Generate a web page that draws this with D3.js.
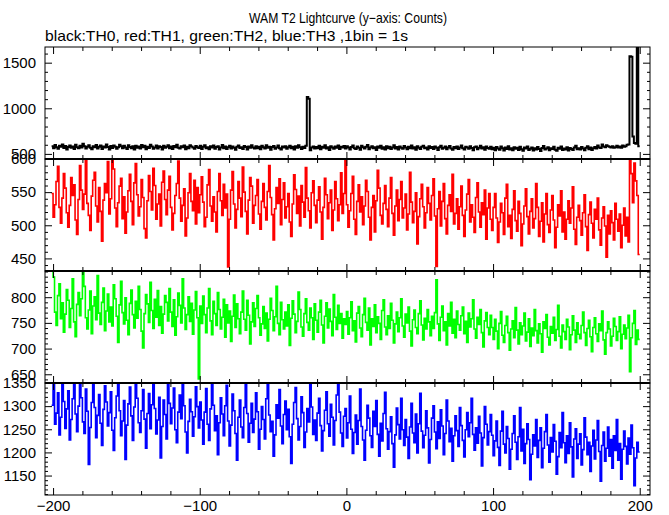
<!DOCTYPE html>
<html><head><meta charset="utf-8">
<script src="https://cdn.jsdelivr.net/npm/d3@7/dist/d3.min.js"></script>
<style>
html,body{margin:0;padding:0;background:#fff;}
svg{display:block;}
text{font-family:"Liberation Sans",Arial,Helvetica,sans-serif;fill:#000;}
</style></head>
<body>
<svg id="chart" width="669" height="515"></svg>
<script>
const title = "WAM T2 Lightcurve (y\u2212axis: Counts)";
const subtitle = "black:TH0, red:TH1, green:TH2, blue:TH3 ,1bin = 1s";
const timeStart = -201;
const xTickLabels = [-200, -100, 0, 100, 200];

const th0 = [
583,561,597,572,556,590,578,604,565,587,549,576,593,568,581,555,600,574,562,589,
571,612,585,558,579,596,566,551,584,573,598,560,577,591,554,582,569,603,575,547,
586,564,592,579,557,572,599,583,561,588,570,553,595,576,563,584,549,590,567,580,
559,597,574,588,552,578,565,601,582,556,571,593,560,585,575,548,589,568,579,596,
563,581,554,587,572,599,566,558,583,574,591,550,577,562,594,580,569,557,586,573,
565,588,553,579,596,561,574,550,583,569,592,557,576,585,548,571,598,563,580,555,
574,590,559,582,567,546,578,593,564,572,555,587,576,549,581,566,595,570,558,584,
562,577,551,589,573,560,596,568,579,545,575,586,557,571,592,563,548,580,569,584,
556,574,590,561,578,547,583,567,594,572,553,579,564,588,1124,1105,541,570,582,558,
575,563,589,551,577,568,596,560,573,544,585,571,556,582,566,591,554,578,569,587,
560,583,571,549,576,593,562,555,580,567,546,588,573,559,577,598,552,569,584,561,
574,543,581,566,590,557,572,548,585,563,578,553,569,594,560,575,547,582,568,556,
587,571,550,579,562,592,558,574,545,583,566,553,577,589,561,570,548,584,564,575,
555,581,568,542,573,590,557,566,580,551,571,586,559,546,576,563,582,554,569,592,
562,549,578,571,557,585,564,541,574,580,552,567,589,558,573,545,581,565,556,577,
552,568,541,575,559,546,580,563,537,571,555,584,548,562,539,574,557,566,543,578,
551,535,569,560,582,544,557,571,538,563,549,576,554,531,565,586,547,558,572,540,
561,553,578,545,534,567,556,581,542,560,548,573,537,564,555,544,570,590,552,561,
547,575,558,539,566,584,551,569,543,562,576,558,591,570,564,603,581,572,596,585,
578,570,583,566,574,589,571,580,568,592,577,585,600,604,1570,1565,690,620,612,1690,
585];

const th1 = [
548,512,531,566,589,527,503,541,578,556,519,497,530,572,545,561,508,486,539,590,
553,524,547,601,533,515,492,544,568,580,529,505,557,521,476,538,563,549,596,517,
540,611,585,526,498,534,559,571,510,543,488,520,552,577,536,501,564,593,546,514,
528,569,542,495,481,537,575,551,523,586,560,509,532,547,499,565,582,539,516,553,
574,527,493,518,545,563,597,541,506,530,555,484,511,549,578,536,522,568,502,557,
519,546,573,535,498,512,561,584,529,506,543,520,490,551,578,537,515,562,526,547,
437,509,553,581,532,496,524,566,541,513,588,550,521,487,538,572,559,503,530,545,
569,517,494,536,563,527,508,551,590,542,516,478,525,557,533,570,501,539,564,511,
528,548,505,483,532,576,554,518,544,499,560,535,512,587,541,522,496,549,567,530,
504,538,558,520,479,527,571,546,510,534,553,492,523,566,540,507,531,579,518,548,
603,531,497,522,548,574,509,486,536,561,520,543,501,529,568,551,512,478,527,545,
490,537,583,556,515,502,533,560,524,498,541,572,518,485,529,553,507,539,566,511,
526,547,493,517,580,535,504,521,549,472,513,540,562,528,496,519,557,533,508,545,
570,514,438,525,551,499,536,563,510,487,530,546,521,577,502,518,540,494,528,559,
515,483,523,547,569,505,531,512,489,542,564,520,497,534,516,553,479,526,548,509,
492,527,548,511,474,505,533,519,486,541,562,498,515,480,524,552,507,491,536,518,
469,502,529,555,513,487,521,540,496,510,563,527,483,506,534,475,517,548,501,489,
523,545,508,466,497,531,514,552,490,520,479,509,537,503,526,558,494,471,512,530,
507,485,519,546,498,462,516,535,503,481,524,509,541,493,470,511,528,499,452,515,
487,522,504,478,533,509,491,517,466,500,526,484,512,475,606,578,534,594,567,545,
456];

const th2 = [
852,839,771,745,803,826,758,789,732,767,815,794,741,778,836,752,723,786,809,764,
797,848,821,760,738,775,812,729,783,801,756,842,769,747,790,818,735,773,806,752,
781,744,824,797,763,712,785,831,770,748,799,755,727,788,814,766,740,792,759,821,
776,734,701,768,805,787,751,829,774,739,796,761,813,745,782,730,767,803,790,754,
817,771,743,795,726,762,808,784,750,836,779,737,766,801,753,788,728,775,811,760,
641,783,749,802,766,731,779,817,754,727,792,768,745,809,776,738,761,796,722,785,
750,773,714,763,804,741,787,758,729,771,812,757,736,794,765,709,752,789,743,778,
803,760,726,748,782,739,769,715,757,798,774,735,762,821,749,727,790,756,738,771,
744,785,706,759,793,767,731,753,810,776,742,724,768,797,751,736,779,760,718,787,
755,732,771,794,746,711,763,789,740,777,753,725,805,761,737,784,749,768,720,758,
747,772,728,760,791,735,754,713,769,782,740,723,766,798,751,736,779,707,758,743,
785,731,762,749,718,774,795,742,727,764,739,788,755,711,748,771,733,760,797,744,
722,767,750,781,734,705,756,775,741,729,768,793,746,717,759,738,776,752,725,763,
739,770,834,748,716,761,783,735,752,707,768,744,790,730,757,721,773,747,736,764,
781,729,753,712,769,742,758,795,738,720,761,747,776,731,703,754,770,741,727,765,
741,718,757,734,700,749,772,726,712,745,763,731,697,738,754,721,780,736,709,750,
727,744,769,715,732,758,704,740,725,776,735,711,748,729,693,752,739,766,722,707,
743,730,761,716,737,784,724,701,746,733,718,757,742,698,727,764,736,712,750,728,
719,745,771,731,706,739,755,723,694,741,760,729,714,748,735,773,717,689,731,752,
738,705,724,759,743,716,733,762,700,728,746,719,740,765,655,721,749,774,708,736,
718];

const th3 = [
1302,1347,1261,1285,1329,1238,1276,1358,1310,1252,1294,1333,1227,1271,1316,1349,1283,1245,1300,1362,
1318,1266,1241,1337,1289,1174,1254,1308,1351,1297,1232,1280,1325,1263,1215,1293,1344,1309,1257,1286,
1331,1248,1204,1275,1322,1356,1290,1236,1268,1312,1185,1259,1305,1341,1279,1226,1298,1353,1317,1264,
1243,1290,1336,1272,1209,1284,1327,1251,1303,1360,1295,1240,1270,1319,1188,1256,1313,1282,1229,1348,
1306,1262,1296,1339,1249,1221,1287,1324,1273,1352,1301,1244,1199,1267,1315,1288,1235,1277,1342,1299,
1253,1309,1270,1218,1287,1338,1261,1226,1294,1357,1302,1247,1279,1195,1264,1318,1283,1236,1301,1345,
1268,1214,1259,1326,1290,1241,1183,1276,1313,1255,1232,1297,1350,1284,1222,1263,1306,1243,1272,1329,
1288,1207,1250,1299,1271,1229,1316,1358,1281,1245,1267,1192,1238,1303,1274,1336,1257,1219,1282,1311,
1249,1293,1234,1176,1261,1308,1340,1273,1227,1256,1320,1286,1211,1244,1295,1266,1355,1298,1239,1270,
1226,1285,1317,1258,1203,1247,1291,1331,1262,1235,1304,1276,1216,1269,1324,1352,1287,1242,1213,1278,
1295,1231,1264,1322,1250,1198,1243,1281,1218,1269,1337,1256,1227,1183,1248,1302,1274,1236,1211,1289,
1256,1312,1239,1192,1263,1225,1284,1330,1251,1207,1245,1277,1219,1168,1238,1296,1260,1229,1317,1249,
1215,1271,1233,1187,1255,1306,1242,1221,1283,1199,1262,1328,1246,1210,1237,1290,1253,1177,1228,1274,
1301,1244,1208,1266,1230,1292,1257,1195,1241,1313,1268,1223,1252,1181,1236,1279,1247,1213,1297,1258,
1226,1190,1249,1286,1234,1264,1317,1239,1205,1253,1220,1278,1242,1171,1232,1299,1261,1216,1245,1282,
1237,1193,1225,1268,1211,1172,1246,1289,1218,1199,1256,1230,1164,1207,1241,1279,1222,1185,1234,1297,
1203,1250,1176,1219,1262,1228,1141,1196,1238,1214,1271,1189,1226,1253,1167,1209,1245,1282,1216,1179,
1232,1201,1260,1224,1153,1191,1243,1210,1286,1221,1178,1236,1198,1264,1212,1147,1229,1251,1187,1218,
1240,1173,1206,1275,1233,1195,1222,1159,1214,1248,1186,1227,1269,1202,1138,1215,1244,1181,1209,1255,
1192,1228,1166,1236,1204,1271,1183,1219,1142,1207,1246,1213,1175,1231,1196,1259,1210,1128,1188,1222,
1201];

const seriesNames = ["TH0","TH1","TH2","TH3"];
const seriesColors = ["#000000","#ff0000","#00ff00","#0000ff"];
const seriesWidths = [2, 1.6, 1.6, 1.6];
const yDomains = [[444,1672],[431,600],[633,851],[1108,1350]];
const yMajorTicks = [[500,1000,1500],[450,500,550,600],[650,700,750,800],[1150,1200,1250,1300,1350]];
const yMinorSteps = [100,10,10,10];

const svg = d3.select("#chart");
const L = 45, R = 650, T = 47, PH = 112;
const x = d3.scaleLinear().domain([-205.5, 207]).range([L, R]);
const allSeries = [th0, th1, th2, th3];

svg.append("text").attr("x", 348).attr("y", 23).attr("text-anchor","middle")
  .attr("textLength", 198).attr("lengthAdjust","spacingAndGlyphs")
  .style("font-size","14.5px").text(title);
svg.append("text").attr("x", 45).attr("y", 41).attr("text-anchor","start")
  .attr("textLength", 363).attr("lengthAdjust","spacingAndGlyphs")
  .style("font-size","15px").text(subtitle);

const xMajor = d3.range(-200, 201, 100);
const xMinor = d3.range(-200, 201, 20).filter(v => v % 100 !== 0);

allSeries.forEach((data, k) => {
  const top = T + k*PH, bot = top + PH;
  const y = d3.scaleLinear().domain(yDomains[k]).range([bot, top]);
  const g = svg.append("g");
  const cid = "clip"+k;
  svg.append("clipPath").attr("id", cid).append("rect")
    .attr("x", L).attr("y", top).attr("width", R-L).attr("height", PH);
  const pts = data.map((v,i) => [timeStart+i, v]);
  pts.push([timeStart+data.length, data[data.length-1]]);
  const line = d3.line().x(d=>x(d[0])).y(d=>y(d[1])).curve(d3.curveStepAfter);
  g.append("path").attr("d", line(pts)).attr("clip-path","url(#"+cid+")")
    .attr("fill","none").attr("stroke", seriesColors[k]).attr("stroke-width", seriesWidths[k]);

  const [d0,d1] = yDomains[k];
  const minors = d3.range(Math.ceil(d0/yMinorSteps[k])*yMinorSteps[k], d1+0.001, yMinorSteps[k])
      .filter(v => !yMajorTicks[k].includes(v));
  g.append("g").attr("transform",`translate(${L},0)`)
    .call(d3.axisLeft(y).tickValues(yMajorTicks[k]).tickSize(-7).tickPadding(16).tickFormat(d3.format("d")))
    .call(a => { a.select(".domain").remove(); a.selectAll("text").style("font-size","15px").attr("x",-9); });
  g.append("g").attr("transform",`translate(${L},0)`)
    .call(d3.axisLeft(y).tickValues(minors).tickSize(-3).tickFormat(""))
    .call(a => a.select(".domain").remove());
  g.append("g").attr("transform",`translate(${R},0)`)
    .call(d3.axisRight(y).tickValues(yMajorTicks[k]).tickSize(-7).tickFormat(""))
    .call(a => a.select(".domain").remove());
  g.append("g").attr("transform",`translate(${R},0)`)
    .call(d3.axisRight(y).tickValues(minors).tickSize(-3).tickFormat(""))
    .call(a => a.select(".domain").remove());
  g.append("g").attr("transform",`translate(0,${top})`)
    .call(d3.axisTop(x).tickValues(xMajor).tickSize(-7).tickFormat(""))
    .call(a => a.select(".domain").remove());
  g.append("g").attr("transform",`translate(0,${top})`)
    .call(d3.axisTop(x).tickValues(xMinor).tickSize(-4).tickFormat(""))
    .call(a => a.select(".domain").remove());
  g.append("g").attr("transform",`translate(0,${bot})`)
    .call(d3.axisBottom(x).tickValues(xMajor).tickSize(-7).tickFormat(""))
    .call(a => a.select(".domain").remove());
  g.append("g").attr("transform",`translate(0,${bot})`)
    .call(d3.axisBottom(x).tickValues(xMinor).tickSize(-4).tickFormat(""))
    .call(a => a.select(".domain").remove());
  g.append("rect").attr("x", L).attr("y", top).attr("width", R-L).attr("height", PH)
    .attr("fill","none").attr("stroke","#000").attr("stroke-width", 1);
});

for (let k = 1; k < 4; k++) {
  svg.append("line").attr("x1", L).attr("x2", R).attr("y1", T+k*PH).attr("y2", T+k*PH)
    .attr("stroke","#000").attr("stroke-width", 2);
}

const bottomY = T + 4*PH;
svg.append("g").attr("transform",`translate(0,${bottomY})`)
  .call(d3.axisBottom(x).tickValues(xTickLabels).tickSize(0).tickPadding(5)
    .tickFormat(d => d < 0 ? "\u2212" + Math.abs(d) : String(d)))
  .call(a => { a.select(".domain").remove(); a.selectAll("text").style("font-size","15px"); });
</script>
</body></html>
